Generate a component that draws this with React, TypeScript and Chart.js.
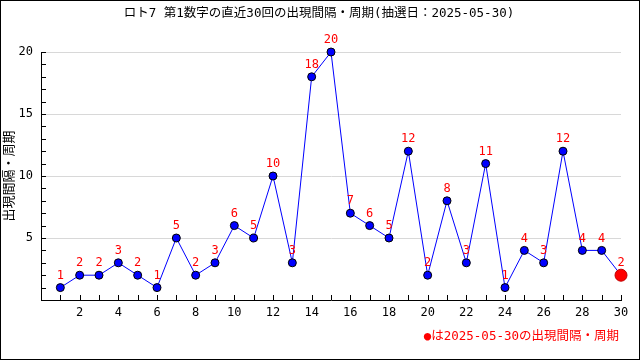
import React, { useEffect, useRef } from "react";
import { Chart, registerables } from "chart.js";

Chart.register(...registerables);

const draws = [1, 2, 3, 4, 5, 6, 7, 8, 9, 10, 11, 12, 13, 14, 15, 16, 17, 18, 19, 20, 21, 22, 23, 24, 25, 26, 27, 28, 29, 30];
const intervals = [1, 2, 2, 3, 2, 1, 5, 2, 3, 6, 5, 10, 3, 18, 20, 7, 6, 5, 12, 2, 8, 3, 11, 1, 4, 3, 12, 4, 4, 2];
const titleText = "ロト7 第1数字の直近30回の出現間隔・周期(抽選日：2025-05-30)";
const yTitleText = "出現間隔・周期";
const legendText = "●は2025-05-30の出現間隔・周期";
const yTickLabels = [5, 10, 15, 20];
const xTickLabels = [2, 4, 6, 8, 10, 12, 14, 16, 18, 20, 22, 24, 26, 28, 30];

const FONT = '"DejaVu Sans Mono", "Noto Sans CJK JP", monospace';

const decorPlugin = {
  id: "decor",
  beforeDraw(chart: any) {
    const ctx = chart.ctx;
    ctx.save();
    ctx.fillStyle = "#ffffff";
    ctx.fillRect(0, 0, chart.width, chart.height);
    ctx.restore();
  },
  afterDraw(chart: any) {
    const ctx = chart.ctx;
    const xs = chart.scales.x;
    const ys = chart.scales.y;
    const area = chart.chartArea;
    ctx.save();
    // inner tick marks
    ctx.strokeStyle = "#000000";
    ctx.lineWidth = 1;
    ctx.beginPath();
    for (let v = 1; v <= 20; v++) {
      const py = Math.round(ys.getPixelForValue(v)) + 0.5;
      ctx.moveTo(area.left, py);
      ctx.lineTo(area.left + 5, py);
    }
    for (let v = 1; v <= 30; v++) {
      const px = Math.round(xs.getPixelForValue(v)) + 0.5;
      ctx.moveTo(px, area.bottom);
      ctx.lineTo(px, area.bottom - 5);
    }
    ctx.stroke();

    // data labels
    const meta = chart.getDatasetMeta(0);
    ctx.fillStyle = "#ff0000";
    ctx.font = "12px " + FONT;
    ctx.textAlign = "center";
    ctx.textBaseline = "middle";
    meta.data.forEach((pt: any, i: number) => {
      ctx.fillText(String(intervals[i]), pt.x, pt.y - 12);
    });

    // title
    ctx.fillStyle = "#000000";
    ctx.font = "12.5px " + FONT;
    ctx.fillText(titleText, 319, 14);

    // y title
    ctx.save();
    ctx.font = "13px " + FONT;
    ctx.translate(10, (area.top + area.bottom) / 2);
    ctx.rotate(-Math.PI / 2);
    ctx.fillText(yTitleText, 0, 0);
    ctx.restore();

    // legend
    ctx.fillStyle = "#ff0000";
    ctx.font = "12.5px " + FONT;
    ctx.textAlign = "right";
    ctx.fillText(legendText, 619, 337);

    // frame
    ctx.strokeStyle = "#000000";
    ctx.strokeRect(0.5, 0.5, chart.width - 1, chart.height - 1);
    ctx.restore();
  },
};

export default function App() {
  const ref = useRef<HTMLCanvasElement | null>(null);
  useEffect(() => {
    document.body.style.margin = "0";
    if (!ref.current) return;
    const n = intervals.length;
    const chart = new Chart(ref.current, {
      type: "line",
      data: {
        datasets: [
          {
            data: draws.map((d, i) => ({ x: d, y: intervals[i] })),
            borderColor: "#0000ff",
            borderWidth: 1,
            tension: 0,
            clip: false,
            pointRadius: intervals.map((_, i) => (i === n - 1 ? 6 : 4)),
            pointBackgroundColor: intervals.map((_, i) => (i === n - 1 ? "#ff0000" : "#0000ff")),
            pointBorderColor: intervals.map((_, i) => (i === n - 1 ? "#c00000" : "#000000")),
            pointBorderWidth: 1,
          },
        ],
      },
      options: {
        animation: false,
        responsive: false,
        events: [],
        layout: { padding: { top: 52, right: 19, left: 0, bottom: 0 } },
        plugins: { legend: { display: false }, title: { display: false }, tooltip: { enabled: false } },
        scales: {
          x: {
            type: "linear",
            min: 0,
            max: 30,
            afterFit: (s: any) => {
              s.height = 60;
            },
            afterBuildTicks: (s: any) => {
              s.ticks = [0, ...draws].map((v) => ({ value: v }));
            },
            ticks: {
              autoSkip: false,
              maxRotation: 0,
              padding: 6,
              color: "#000000",
              font: { family: FONT, size: 12 },
              callback: (v: any) => (xTickLabels.includes(Number(v)) ? String(v) : ""),
            },
            grid: { display: true, drawOnChartArea: false, drawTicks: false, color: "transparent" },
            border: { display: true, color: "#000000", width: 1 },
          },
          y: {
            min: 0,
            max: 20,
            afterFit: (s: any) => {
              s.width = 41;
            },
            afterBuildTicks: (s: any) => {
              s.ticks = [0, ...yTickLabels].map((v) => ({ value: v }));
            },
            ticks: {
              padding: 8,
              color: "#000000",
              font: { family: FONT, size: 12 },
              callback: (v: any) => (yTickLabels.includes(Number(v)) ? String(v) : ""),
            },
            grid: {
              drawTicks: false,
              color: (c: any) => (c.tick && c.tick.value > 0 ? "#d8d8d8" : "transparent"),
            },
            border: { display: true, color: "#000000", width: 1 },
          },
        },
      },
      plugins: [decorPlugin],
    } as any);
    return () => chart.destroy();
  }, []);
  return (
    <div style={{ width: 640, height: 360, position: "relative" }}>
      <canvas ref={ref} width={640} height={360} style={{ display: "block" }} />
    </div>
  );
}
